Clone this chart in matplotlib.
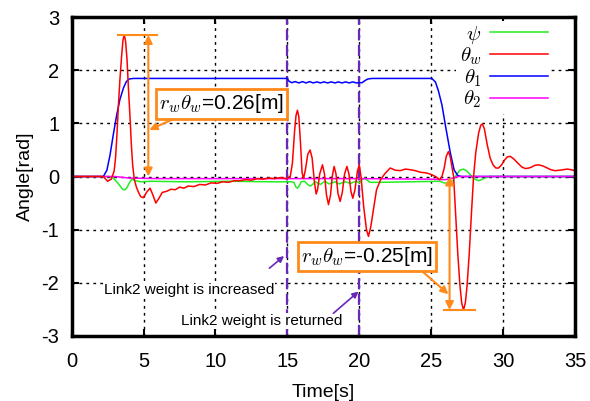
import matplotlib
matplotlib.use("Agg")
import matplotlib.pyplot as plt

plt.rcParams["font.family"] = ["Liberation Sans", "DejaVu Sans"]
plt.rcParams["mathtext.fontset"] = "cm"
plt.rcParams["axes.unicode_minus"] = False

# ---- time series as (time [s], angle [rad]) samples ----
psi_samples = [
    (0, 0), (2.6, 0), (2.9, -0.03), (3.2, -0.12), (3.45, -0.21), (3.6, -0.25), (3.71, -0.25),
    (3.85, -0.21), (3.95, -0.15), (4.18, -0.05), (4.45, -0.08), (4.8, -0.10), (5.5, -0.09),
    (8.0, -0.10), (11.0, -0.09), (14.0, -0.10), (15.3, -0.10), (15.45, -0.11), (15.6, -0.2),
    (15.7, -0.22), (15.8, -0.19), (15.95, -0.10), (16.2, -0.09), (16.45, -0.16), (16.6, -0.18),
    (16.75, -0.15), (16.95, -0.10), (17.3, -0.15), (17.6, -0.09), (17.9, -0.14), (18.3, -0.10),
    (18.6, -0.14), (19.0, -0.10), (19.4, -0.13), (19.75, -0.09), (20.0, -0.12), (20.2, -0.06),
    (20.4, -0.03), (20.6, -0.08), (20.76, -0.11), (21.5, -0.11), (23.5, -0.10), (25.6, -0.09),
    (25.9, -0.12), (26.2, -0.13), (26.5, -0.08), (26.8, 0.05), (27.0, 0.12), (27.25, 0.14),
    (27.45, 0.11), (27.6, 0.07), (27.95, -0.04), (28.3, -0.08), (28.65, -0.04), (29.0, 0.0),
    (35.0, 0.0),
]

theta_w_samples = [
    (0, 0), (2.2, 0), (2.5, -0.09), (2.75, -0.05), (2.95, 0.1), (3.05, 0.35), (3.15, 0.8),
    (3.24, 1.3), (3.36, 1.85), (3.48, 2.3), (3.57, 2.58), (3.66, 2.67), (3.75, 2.55),
    (3.85, 2.2), (3.95, 1.65), (4.06, 1.1), (4.15, 0.6), (4.24, 0.22), (4.35, -0.05),
    (4.5, -0.2), (4.65, -0.3), (4.8, -0.38), (4.98, -0.40), (5.1, -0.35), (5.2, -0.30),
    (5.45, -0.22), (5.65, -0.35), (5.85, -0.50), (6.05, -0.42), (6.3, -0.30), (6.6, -0.28),
    (6.9, -0.24), (7.2, -0.25), (7.5, -0.20), (7.8, -0.22), (8.1, -0.18), (8.5, -0.19),
    (8.9, -0.15), (9.3, -0.16), (9.7, -0.12), (10.1, -0.13), (10.5, -0.10), (10.9, -0.11),
    (11.3, -0.08), (11.7, -0.08), (12.1, -0.06), (12.5, -0.07), (12.9, -0.04), (13.3, -0.05),
    (13.7, -0.03), (14.1, -0.04), (14.5, -0.02), (14.9, -0.04), (15.2, 0.0), (15.35, 0.25),
    (15.5, 0.85), (15.6, 1.15), (15.7, 1.25), (15.8, 1.12), (15.92, 0.6), (16.02, 0.08),
    (16.12, -0.04), (16.25, 0.12), (16.42, 0.42), (16.58, 0.50), (16.72, 0.35), (16.88, -0.1),
    (17.0, -0.33), (17.1, -0.25), (17.25, 0.05), (17.44, 0.22), (17.58, 0.05), (17.72, -0.35),
    (17.86, -0.53), (18.0, -0.35), (18.12, 0.0), (18.25, 0.19), (18.38, 0.05), (18.52, -0.32),
    (18.67, -0.47), (18.82, -0.3), (18.98, 0.05), (19.14, 0.19), (19.28, 0.05), (19.42, -0.28),
    (19.55, -0.41), (19.7, -0.25), (19.87, 0.1), (20.0, 0.22), (20.12, 0.0), (20.3, -0.55),
    (20.5, -1.0), (20.64, -1.13), (20.8, -0.95), (21.0, -0.6), (21.2, -0.25), (21.5, -0.05),
    (21.8, 0.06), (22.15, 0.16), (22.5, 0.12), (22.85, 0.11), (23.2, 0.14), (23.5, 0.13),
    (23.9, 0.11), (24.25, 0.08), (24.6, 0.07), (24.9, 0.05), (25.3, 0.0), (25.6, -0.06),
    (25.75, 0.0), (25.9, 0.15), (26.05, 0.38), (26.2, 0.47), (26.32, 0.38), (26.45, 0.18),
    (26.56, 0.0), (26.7, -0.7), (26.85, -1.45), (27.0, -2.05), (27.12, -2.38), (27.25, -2.52),
    (27.38, -2.38), (27.5, -2.05), (27.65, -1.45), (27.8, -0.7), (27.95, 0.0), (28.1, 0.45),
    (28.3, 0.82), (28.45, 0.97), (28.57, 0.99), (28.7, 0.9), (28.9, 0.6), (29.1, 0.35),
    (29.3, 0.22), (29.5, 0.16), (29.69, 0.16), (29.9, 0.22), (30.1, 0.31), (30.3, 0.37),
    (30.5, 0.38), (30.75, 0.33), (31.0, 0.26), (31.3, 0.18), (31.55, 0.15), (31.8, 0.16),
    (32.0, 0.18), (32.2, 0.21), (32.47, 0.22), (32.75, 0.2), (33.0, 0.17), (33.3, 0.13),
    (33.6, 0.11), (34.0, 0.12), (34.45, 0.14), (34.7, 0.13), (35.0, 0.11),
]

theta_1_samples = [
    (0, 0), (2.2, 0), (2.45, 0.12), (2.67, 0.41), (2.9, 0.8), (3.13, 1.16), (3.35, 1.45),
    (3.6, 1.67), (3.8, 1.79), (4.0, 1.84), (4.3, 1.85), (15.0, 1.85), (15.1, 1.80),
    (15.3, 1.77), (15.55, 1.79), (15.8, 1.765), (16.05, 1.79), (16.3, 1.765), (16.55, 1.79),
    (16.8, 1.765), (17.05, 1.785), (17.3, 1.765), (17.55, 1.785), (17.8, 1.765), (18.05, 1.785),
    (18.3, 1.765), (18.55, 1.785), (18.8, 1.765), (19.05, 1.785), (19.3, 1.765), (19.55, 1.785),
    (19.8, 1.765), (20.0, 1.77), (20.2, 1.77), (20.4, 1.81), (20.6, 1.84), (20.9, 1.85),
    (25.05, 1.85), (25.3, 1.78), (25.5, 1.62), (25.75, 1.35), (26.0, 0.95), (26.33, 0.45),
    (26.6, 0.12), (26.85, 0.02), (27.1, 0.0), (35.0, 0.0),
]

theta_2_samples = [
    (0, 0), (3.0, 0), (4.0, -0.03), (6.0, -0.04), (10.0, -0.04), (15.0, -0.04), (20.0, -0.04),
    (25.0, -0.05), (26.0, -0.06), (26.5, -0.03), (26.9, 0.0), (35.0, 0.0),
]

t_psi, psi = zip(*psi_samples)
t_thw, theta_w = zip(*theta_w_samples)
t_th1, theta_1 = zip(*theta_1_samples)
t_th2, theta_2 = zip(*theta_2_samples)

# link-2 payload change instants [s]
event_times = [15, 20]

x_ticks = [0, 5, 10, 15, 20, 25, 30, 35]
y_ticks = [-3, -2, -1, 0, 1, 2, 3]

ORANGE = "#ff8a1a"
PURPLE = "#6a28b8"

fig = plt.figure(figsize=(5.9, 4.01), dpi=100)
ax = fig.add_axes([0.1215, 0.1633, 0.853, 0.7931])

ax.plot(t_psi, psi, color="#22ee22", lw=1.1, label=r"$\psi$", zorder=3)
ax.plot(t_thw, theta_w, color="#ff0000", lw=1.1, label=r"$\theta_w$", zorder=4)
ax.plot(t_th1, theta_1, color="#0000ff", lw=1.1, label=r"$\theta_1$", zorder=3)
ax.plot(t_th2, theta_2, color="#ff00ff", lw=1.1, label=r"$\theta_2$", zorder=3)

for te in event_times:
    ax.axvline(te, color=PURPLE, lw=1.6, ls=(0, (5, 2)), zorder=2)

ax.set_xlim(0, 35)
ax.set_ylim(-3, 3)
ax.set_xticks(x_ticks)
ax.set_yticks(y_ticks)
ax.tick_params(direction="in", length=5, width=1.5, labelsize=14.5,
               top=True, right=True)
ax.tick_params(axis="x", pad=12)
ax.tick_params(axis="y", pad=9)
ax.grid(True, color="black", lw=1.0, ls=(0, (2, 3)))
for s in ax.spines.values():
    s.set_linewidth(2.5)
    s.set_zorder(7)

ax.set_xlabel("Time[s]", fontsize=14, labelpad=9)
ax.set_ylabel("Angle[rad]", fontsize=14, labelpad=5)

leg = ax.legend(loc="upper right", bbox_to_anchor=(0.953, 0.99), borderaxespad=0.0,
                fontsize=15, markerfirst=False, handlelength=2.8, labelspacing=0.0,
                fancybox=False, frameon=True, handletextpad=0.4, borderpad=0.15)
leg.get_frame().set_edgecolor("none")
leg.get_frame().set_alpha(1.0)

# peak amplitude markers for the wheel angle
pk_pos = max(theta_w)
pk_neg = min(theta_w)
ax.plot([3.24, 5.96], [pk_pos, pk_pos], color=ORANGE, lw=1.5, zorder=5)
ax.plot([25.86, 28.07], [pk_neg, pk_neg], color=ORANGE, lw=1.5, zorder=5)
dbl = dict(arrowstyle="<|-|>", color=ORANGE, lw=1.5, mutation_scale=12,
           shrinkA=0, shrinkB=0)
ax.annotate("", xy=(5.33, 0.0), xytext=(5.33, pk_pos), arrowprops=dbl, zorder=5)
ax.annotate("", xy=(26.28, pk_neg), xytext=(26.28, 0.0), arrowprops=dbl, zorder=5)

box = dict(boxstyle="square,pad=0.15", fc="white", ec=ORANGE, lw=2)
ax.text(10.42, 1.37, r"$r_w\theta_w$=0.26[m]", fontsize=15, ha="center", va="center",
        bbox=box, zorder=6)
ax.text(20.55, -1.51, r"$r_w\theta_w$=-0.25[m]", fontsize=15, ha="center", va="center",
        bbox=box, zorder=6)
lead = dict(arrowstyle="-|>", color=ORANGE, lw=1.5, mutation_scale=11,
            shrinkA=0, shrinkB=0)
ax.annotate("", xy=(5.4, 0.88), xytext=(6.96, 1.07), arrowprops=lead, zorder=6)
ax.annotate("", xy=(26.2, -2.22), xytext=(24.47, -1.81), arrowprops=lead, zorder=6)

# event notes
note_bg = dict(boxstyle="square,pad=0.05", fc="white", ec="none")
ax.text(8.15, -2.14, "Link2 weight is increased", fontsize=11, ha="center",
        va="center", bbox=note_bg, zorder=6)
ax.text(13.24, -2.73, "Link2 weight is returned", fontsize=11, ha="center",
        va="center", bbox=note_bg, zorder=6)
ev = dict(arrowstyle="-|>", color=PURPLE, lw=1.2, mutation_scale=9,
          shrinkA=0, shrinkB=0)
ax.annotate("", xy=(14.77, -1.50), xytext=(13.75, -1.73), arrowprops=ev, zorder=6)
ax.annotate("", xy=(19.95, -2.17), xytext=(18.2, -2.58), arrowprops=ev, zorder=6)

fig.savefig("out.png", dpi=100)
